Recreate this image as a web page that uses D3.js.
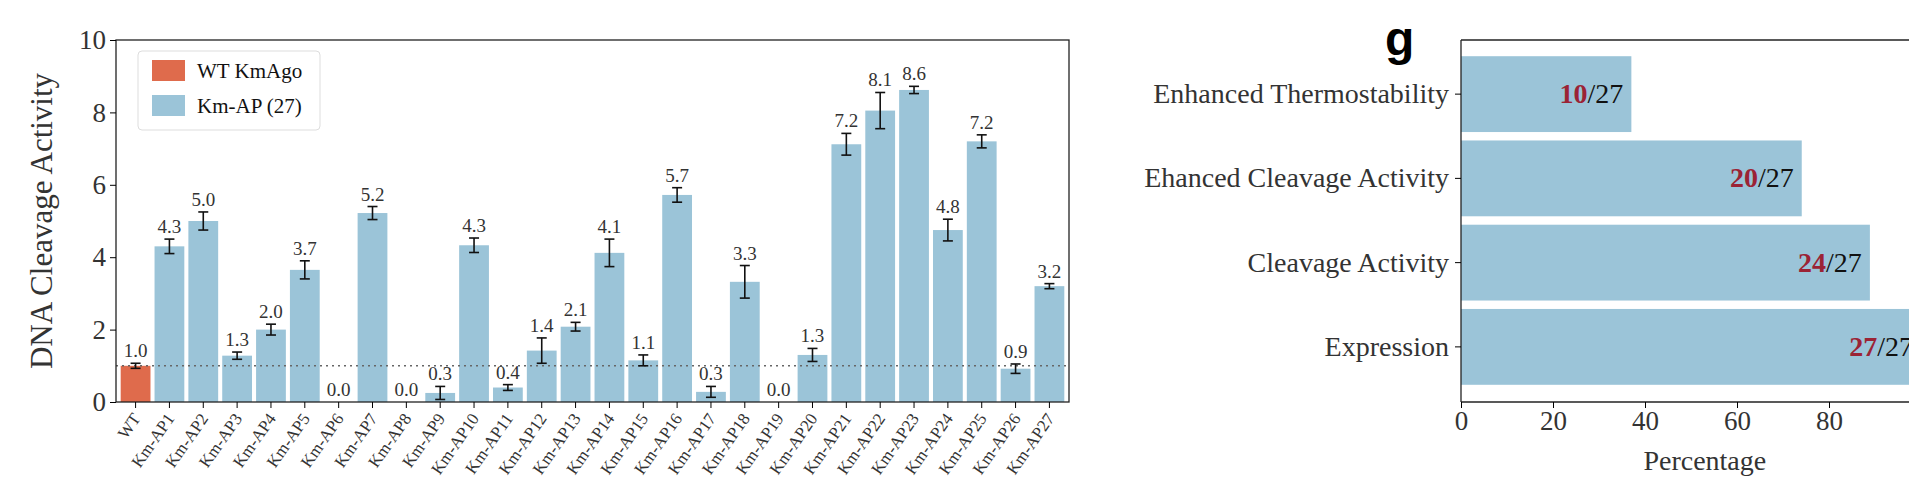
<!DOCTYPE html>
<html><head><meta charset="utf-8">
<script src="https://cdn.jsdelivr.net/npm/d3@7"></script>
<style>body{margin:0;background:#fff}svg{display:block}</style>
</head><body><svg id="c" width="1909" height="502"></svg>
<script>
const categories = ["WT","Km-AP1","Km-AP2","Km-AP3","Km-AP4","Km-AP5","Km-AP6","Km-AP7","Km-AP8","Km-AP9","Km-AP10","Km-AP11","Km-AP12","Km-AP13","Km-AP14","Km-AP15","Km-AP16","Km-AP17","Km-AP18","Km-AP19","Km-AP20","Km-AP21","Km-AP22","Km-AP23","Km-AP24","Km-AP25","Km-AP26","Km-AP27"];
const activity = [1.0,4.3,5.0,1.28,2.0,3.65,0,5.22,0,0.25,4.33,0.4,1.42,2.08,4.12,1.15,5.72,0.28,3.32,0,1.3,7.12,8.05,8.62,4.75,7.2,0.92,3.2];
const errors = [0.07,0.2,0.25,0.1,0.15,0.25,0,0.18,0,0.18,0.2,0.08,0.35,0.12,0.38,0.15,0.2,0.15,0.45,0,0.18,0.3,0.5,0.1,0.3,0.18,0.13,0.07];
const labels = ["1.0","4.3","5.0","1.3","2.0","3.7","0.0","5.2","0.0","0.3","4.3","0.4","1.4","2.1","4.1","1.1","5.7","0.3","3.3","0.0","1.3","7.2","8.1","8.6","4.8","7.2","0.9","3.2"];
const yTicks = [0,2,4,6,8,10];
const legendItems = ["WT KmAgo","Km-AP (27)"];
const props = ["Enhanced Thermostability","Ehanced Cleavage Activity","Cleavage Activity","Expression"];
const counts = [10,20,24,27];
const total = 27;
const xTicks = [0,20,40,60,80];

const ORANGE="#df6b4c", BLUE="#9bc4d8", RED="#9b2335";
const serif = "'Liberation Serif','DejaVu Serif',serif";
const svg = d3.select("#c");

// ---- left chart
const L={l:116,r:1069,t:40,b:402};
const x = d3.scaleBand().domain(categories).range([L.l+3,L.r-3]).paddingInner(0.12).paddingOuter(0.05);
const y = d3.scaleLinear().domain([0,10]).range([L.b,L.t]);
const g = svg.append("g").style("font-family",serif);
g.selectAll("rect.bar").data(categories).join("rect")
 .attr("x",d=>x(d)).attr("width",x.bandwidth())
 .attr("y",(d,i)=>y(activity[i])).attr("height",(d,i)=>y(0)-y(activity[i]))
 .attr("fill",(d,i)=>i===0?ORANGE:BLUE);
g.append("line").attr("x1",L.l).attr("x2",L.r).attr("y1",y(1)).attr("y2",y(1))
 .attr("stroke","#666").attr("stroke-width",1.6).attr("stroke-dasharray","2,4");
categories.forEach((c,i)=>{
  if(errors[i]<=0) return;
  const cx=x(c)+x.bandwidth()/2, y1=y(activity[i]-errors[i]), y2=y(activity[i]+errors[i]);
  g.append("line").attr("x1",cx).attr("x2",cx).attr("y1",y1).attr("y2",y2).attr("stroke","#111").attr("stroke-width",1.6);
  [y1,y2].forEach(yy=>g.append("line").attr("x1",cx-5).attr("x2",cx+5).attr("y1",yy).attr("y2",yy).attr("stroke","#111").attr("stroke-width",1.6));
});
g.selectAll("text.val").data(categories).join("text")
 .attr("x",d=>x(d)+x.bandwidth()/2).attr("y",(d,i)=>y(activity[i]+errors[i])-6)
 .attr("text-anchor","middle").attr("font-size",19).attr("fill","#333").text((d,i)=>labels[i]);
g.append("rect").attr("x",L.l).attr("y",L.t).attr("width",L.r-L.l).attr("height",L.b-L.t).attr("fill","none").attr("stroke","#222").attr("stroke-width",1.3);
const ya = g.append("g").attr("transform",`translate(${L.l},0)`).call(d3.axisLeft(y).tickValues(yTicks).tickSize(6).tickPadding(4));
ya.select(".domain").remove();
ya.selectAll("text").attr("font-size",27).attr("font-family",serif).attr("fill","#333");
const xa = g.append("g").attr("transform",`translate(0,${L.b})`).call(d3.axisBottom(x).tickSize(6));
xa.select(".domain").remove();
xa.selectAll("text").attr("font-size",17).attr("font-family",serif).attr("fill","#333")
 .attr("text-anchor","end").attr("transform","rotate(-55)").attr("dx","-0.6em").attr("dy","0.3em");
g.append("text").attr("transform",`translate(52,${(L.t+L.b)/2}) rotate(-90)`).attr("text-anchor","middle")
 .attr("font-size",31).attr("fill","#333").text("DNA Cleavage Activity");
// legend
const lg=g.append("g");
lg.append("rect").attr("x",138).attr("y",51).attr("width",182).attr("height",79).attr("rx",4).attr("fill","#fff").attr("stroke","#ddd");
legendItems.forEach((t,i)=>{
  lg.append("rect").attr("x",152).attr("y",60+i*35).attr("width",33).attr("height",21).attr("fill",i===0?ORANGE:BLUE);
  lg.append("text").attr("x",197).attr("y",78+i*35).attr("font-size",21).attr("fill","#111").text(t);
});

// ---- right chart
const R={l:1461,t:40,b:402};
const xr = d3.scaleLinear().domain([0,100]).range([R.l,R.l+460]);
const yr = d3.scaleBand().domain(props).range([52,389]).paddingInner(0.1).paddingOuter(0.05);
const h = svg.append("g").style("font-family",serif);
h.selectAll("rect").data(props).join("rect").attr("x",xr(0)).attr("y",d=>yr(d)).attr("height",yr.bandwidth())
 .attr("width",(d,i)=>xr(counts[i]/total*100)-xr(0)).attr("fill",BLUE);
props.forEach((p,i)=>{
  const t=h.append("text").attr("x",xr(counts[i]/total*100)-8).attr("y",yr(p)+yr.bandwidth()/2+9)
    .attr("text-anchor","end").attr("font-size",28);
  t.append("tspan").attr("fill",RED).attr("font-weight","bold").text(counts[i]);
  t.append("tspan").attr("fill","#111").text("/"+total);
});
h.append("line").attr("x1",R.l).attr("x2",R.l).attr("y1",R.t).attr("y2",R.b).attr("stroke","#222").attr("stroke-width",1.3);
h.append("line").attr("x1",R.l).attr("x2",1909).attr("y1",R.t).attr("y2",R.t).attr("stroke","#222").attr("stroke-width",1.3);
h.append("line").attr("x1",R.l).attr("x2",1909).attr("y1",R.b).attr("y2",R.b).attr("stroke","#222").attr("stroke-width",1.3);
const ra=h.append("g").attr("transform",`translate(${R.l},0)`).call(d3.axisLeft(yr).tickSize(6).tickPadding(6));
ra.select(".domain").remove();
ra.selectAll("text").attr("font-size",28).attr("font-family",serif).attr("fill","#333");
const rb=h.append("g").attr("transform",`translate(0,${R.b})`).call(d3.axisBottom(xr).tickValues(xTicks).tickSize(6));
rb.select(".domain").remove();
rb.selectAll("text").attr("font-size",27).attr("font-family",serif).attr("fill","#333");
h.append("text").attr("x",xr(53)).attr("y",470).attr("text-anchor","middle").attr("font-size",28).attr("fill","#333").text("Percentage");
svg.append("text").attr("x",1385).attr("y",55).attr("font-family","'Liberation Sans',Arial,sans-serif").attr("font-weight","bold").attr("font-size",48).text("g");
</script></body></html>
